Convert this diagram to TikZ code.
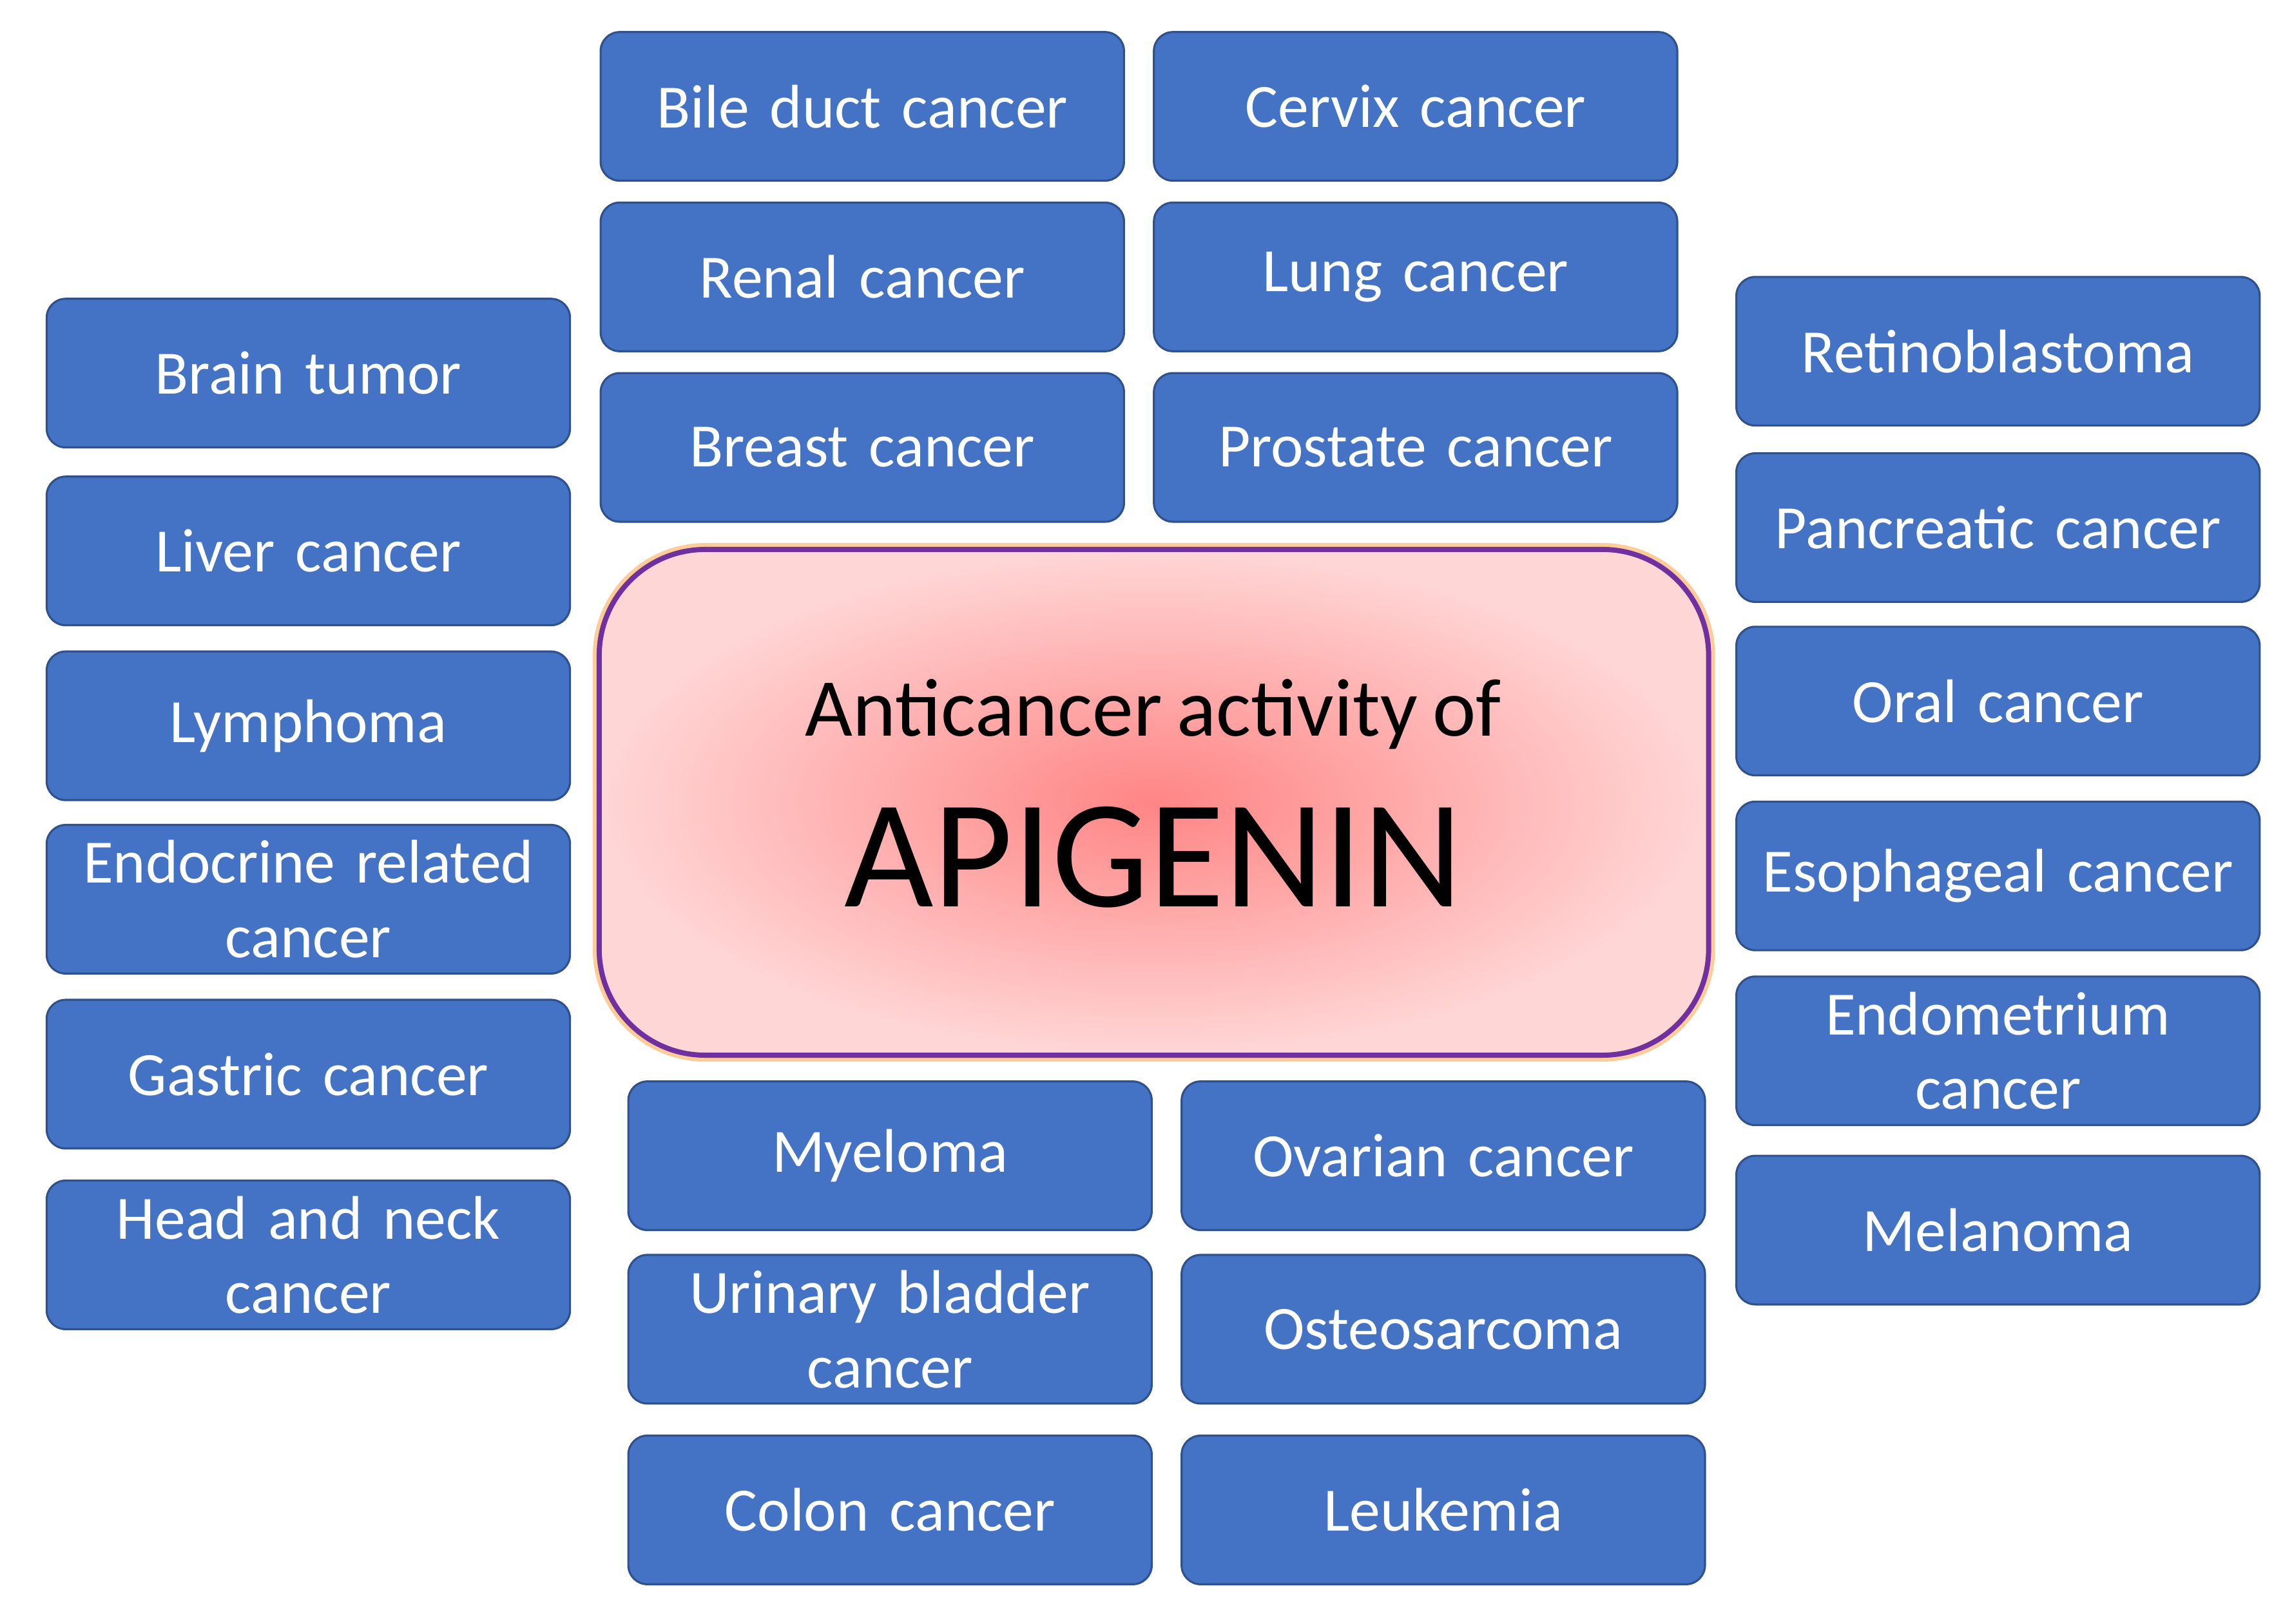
\documentclass[tikz,border=0pt]{standalone}
\usepackage{fontspec}
\setmainfont[WordSpace=0.8]{Carlito}
\usetikzlibrary{shadings}
\definecolor{boxblue}{HTML}{4472C4}
\definecolor{boxedge}{HTML}{2F528F}
\definecolor{cpurple}{HTML}{7030A0}
\definecolor{cin}{HTML}{FF8585}
\definecolor{cout}{HTML}{FFD6D6}
\begin{document}
\begin{tikzpicture}[x=0.01994cm,y=-0.01994cm,
  bx/.style={draw=boxedge,line width=0.8pt,fill=boxblue,rounded corners=0.26cm,
    minimum width=359*0.01994cm,minimum height=102*0.01994cm,text width=7cm,align=center,
    text=white,font=\fontsize{24}{29}\selectfont,inner sep=0pt}]
\useasboundingbox (0,0) rectangle (1566,1114);
\fill[white] (0,0) rectangle (1566,1114);
% central
\draw[orange!40,line width=5pt,rounded corners=1.45cm] (411,377) rectangle (1172,724);
\shade[inner color=cin,outer color=cout,rounded corners=1.45cm] (411,377) rectangle (1172,724);
\draw[cpurple,line width=2pt,rounded corners=1.45cm] (411,377) rectangle (1172,724);
\node[font=\fontsize{32}{38}\selectfont] (t1) at (791,490) {Anticancer activity of};
\node[font=\fontsize{60}{72}\selectfont] (t2) at (791,588) {APIGENIN};
% left
\node[bx] (l1) at (211.5,256) {Brain tumor};
\node[bx] (l2) at (211.5,378) {Liver cancer};
\node[bx] (l3) at (211.5,498) {Lymphoma};
\node[bx] (l4) at (211.5,617) {Endocrine related\\cancer};
\node[bx] (l5) at (211.5,737) {Gastric cancer};
\node[bx] (l6) at (211.5,861) {Head and neck\\cancer};
% top
\node[bx] (a1) at (591.5,73) {Bile duct cancer};
\node[bx] (a2) at (591.5,190) {Renal cancer};
\node[bx] (a3) at (591.5,307) {Breast cancer};
\node[bx] (b1) at (971,73) {Cervix cancer};
\node[bx] (b2) at (971,190) {Lung cancer};
\node[bx] (b3) at (971,307) {Prostate cancer};
% right
\node[bx] (r1) at (1370.5,241) {Retinoblastoma};
\node[bx] (r2) at (1370.5,362) {Pancreatic cancer};
\node[bx] (r3) at (1370.5,481) {Oral cancer};
\node[bx] (r4) at (1370.5,601) {Esophageal cancer};
\node[bx] (r5) at (1370.5,721) {Endometrium\\cancer};
\node[bx] (r6) at (1370.5,844) {Melanoma};
% bottom
\node[bx] (c1) at (610.5,793) {Myeloma};
\node[bx] (c2) at (610.5,912) {Urinary bladder\\cancer};
\node[bx] (c3) at (610.5,1036) {Colon cancer};
\node[bx] (d1) at (990,793) {Ovarian cancer};
\node[bx] (d2) at (990,912) {Osteosarcoma};
\node[bx] (d3) at (990,1036) {Leukemia};
\end{tikzpicture}
\end{document}
